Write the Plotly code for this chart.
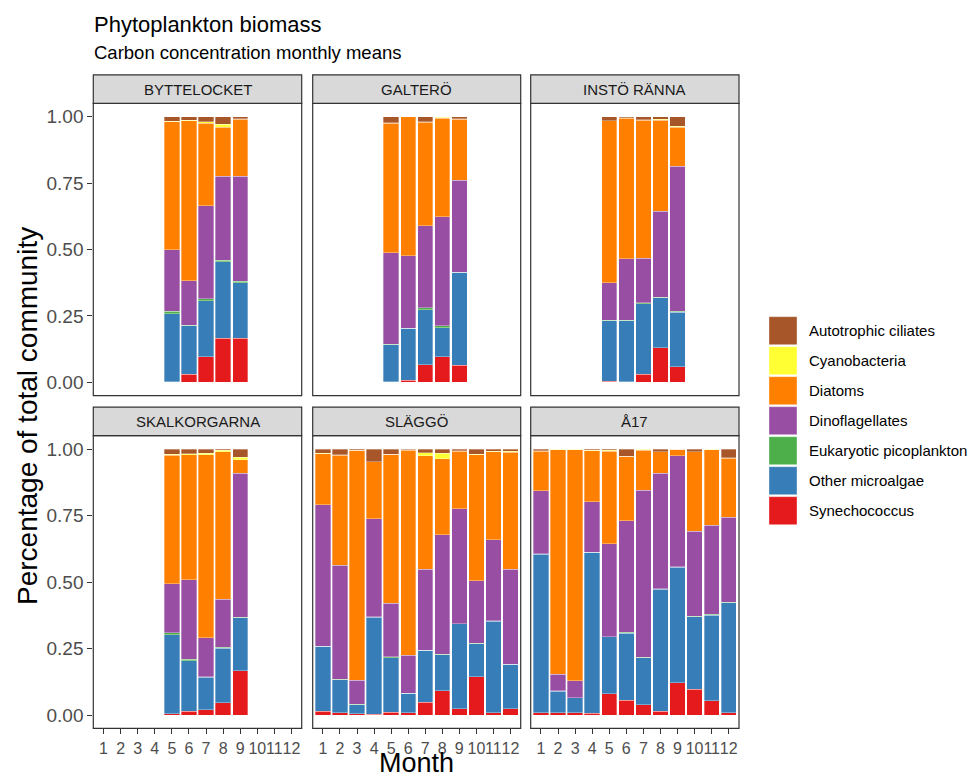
import plotly.graph_objects as go

# ---------------- data ----------------
SITES = ["BYTTELOCKET", "GALTERÖ", "INSTÖ RÄNNA", "SKALKORGARNA", "SLÄGGÖ", "Å17"]
MONTHS_SHORT = [5, 6, 7, 8, 9]
MONTHS_FULL = [1, 2, 3, 4, 5, 6, 7, 8, 9, 10, 11, 12]
SITE_MONTHS = [MONTHS_SHORT, MONTHS_SHORT, MONTHS_SHORT, MONTHS_SHORT, MONTHS_FULL, MONTHS_FULL]
MONTH_TICKS = [str(m) for m in MONTHS_FULL]

GROUPS = ["Autotrophic ciliates", "Cyanobacteria", "Diatoms", "Dinoflagellates",
          "Eukaryotic picoplankton", "Other microalgae", "Synechococcus"]

synechococcus = [
    [0.003, 0.030, 0.097, 0.166, 0.166],
    [0.002, 0.009, 0.067, 0.097, 0.064],
    [0.005, 0.003, 0.030, 0.130, 0.059],
    [0.005, 0.015, 0.020, 0.046, 0.166],
    [0.015, 0.009, 0.004, 0.002, 0.010, 0.009, 0.048, 0.091, 0.024, 0.143, 0.009, 0.023],
    [0.008, 0.008, 0.009, 0.006, 0.080, 0.055, 0.039, 0.015, 0.121, 0.096, 0.053, 0.009],
]
other_microalgae = [
    [0.256, 0.184, 0.211, 0.287, 0.209],
    [0.140, 0.194, 0.207, 0.108, 0.350],
    [0.227, 0.229, 0.266, 0.189, 0.205],
    [0.296, 0.189, 0.121, 0.205, 0.200],
    [0.243, 0.124, 0.035, 0.366, 0.206, 0.072, 0.195, 0.135, 0.319, 0.125, 0.344, 0.167],
    [0.597, 0.082, 0.055, 0.605, 0.213, 0.253, 0.177, 0.458, 0.435, 0.274, 0.322, 0.414],
]
eukaryotic_picoplankton = [
    [0.009, 0.002, 0.006, 0.007, 0.006],
    [0.002, 0.001, 0.007, 0.009, 0.001],
    [0.002, 0.001, 0.004, 0.001, 0.004],
    [0.009, 0.005, 0.003, 0.004, 0.001],
    [0.001, 0.001, 0.001, 0.001, 0.003, 0.001, 0.001, 0.002, 0.001, 0.002, 0.001, 0.001],
    [0.001, 0.001, 0.001, 0.001, 0.001, 0.003, 0.001, 0.001, 0.001, 0.001, 0.003, 0.001],
]
dinoflagellates = [
    [0.231, 0.166, 0.351, 0.316, 0.395],
    [0.344, 0.273, 0.309, 0.409, 0.345],
    [0.141, 0.233, 0.168, 0.324, 0.545],
    [0.184, 0.300, 0.146, 0.180, 0.542],
    [0.532, 0.429, 0.091, 0.368, 0.202, 0.143, 0.304, 0.450, 0.433, 0.235, 0.305, 0.357],
    [0.237, 0.063, 0.063, 0.189, 0.349, 0.419, 0.628, 0.434, 0.417, 0.320, 0.335, 0.320],
]
diatoms = [
    [0.482, 0.603, 0.310, 0.183, 0.214],
    [0.487, 0.522, 0.389, 0.371, 0.230],
    [0.609, 0.528, 0.518, 0.343, 0.146],
    [0.482, 0.470, 0.689, 0.555, 0.050],
    [0.193, 0.414, 0.864, 0.215, 0.559, 0.771, 0.427, 0.286, 0.215, 0.474, 0.332, 0.440],
    [0.149, 0.843, 0.870, 0.193, 0.347, 0.242, 0.150, 0.081, 0.025, 0.298, 0.285, 0.222],
]
cyanobacteria = [
    [0.001, 0.002, 0.005, 0.012, 0.002],
    [0.001, 0.000, 0.001, 0.003, 0.002],
    [0.001, 0.001, 0.003, 0.004, 0.004],
    [0.004, 0.004, 0.005, 0.005, 0.010],
    [0.001, 0.001, 0.001, 0.001, 0.001, 0.001, 0.010, 0.020, 0.003, 0.001, 0.001, 0.003],
    [0.001, 0.002, 0.001, 0.001, 0.004, 0.001, 0.004, 0.001, 0.001, 0.001, 0.001, 0.003],
]
autotrophic_ciliates = [
    [0.018, 0.014, 0.020, 0.029, 0.008],
    [0.024, 0.001, 0.020, 0.003, 0.008],
    [0.015, 0.005, 0.011, 0.010, 0.037],
    [0.020, 0.017, 0.016, 0.005, 0.031],
    [0.016, 0.022, 0.004, 0.047, 0.019, 0.003, 0.015, 0.016, 0.006, 0.020, 0.009, 0.009],
    [0.007, 0.001, 0.001, 0.005, 0.005, 0.027, 0.001, 0.010, 0.000, 0.010, 0.001, 0.032],
]

Y_TICKS = [0, 0.25, 0.5, 0.75, 1.0]
Y_TICK_LABELS = ["0.00", "0.25", "0.50", "0.75", "1.00"]

# ---------------- styling ----------------
COLORS = {
    "Autotrophic ciliates": "#A65628",
    "Cyanobacteria": "#FFFF33",
    "Diatoms": "#FF7F00",
    "Dinoflagellates": "#984EA3",
    "Eukaryotic picoplankton": "#4DAF4A",
    "Other microalgae": "#377EB8",
    "Synechococcus": "#E41A1C",
}
SERIES = {
    "Autotrophic ciliates": autotrophic_ciliates,
    "Cyanobacteria": cyanobacteria,
    "Diatoms": diatoms,
    "Dinoflagellates": dinoflagellates,
    "Eukaryotic picoplankton": eukaryotic_picoplankton,
    "Other microalgae": other_microalgae,
    "Synechococcus": synechococcus,
}
FONT = "Liberation Sans, Arial, sans-serif"
W, H = 971, 780

COL_X = [(93.3, 301.7), (312.7, 520.7), (530.7, 739.0)]
ROW_Y = [(103.3, 395.7), (435.7, 728.3)]
STRIP_H = 28.5


def px_x(x):
    return x / W


def px_y(y):
    return 1 - y / H


fig = go.Figure()
layout = dict(
    width=W, height=H,
    margin=dict(l=0, r=0, t=0, b=0),
    paper_bgcolor="white", plot_bgcolor="white",
    barmode="stack", barnorm="fraction", bargap=0.1,
    showlegend=False,
    font=dict(family=FONT),
)
shapes = []
annotations = []

for i, site in enumerate(SITES):
    r, c = divmod(i, 3)
    ax = "" if i == 0 else str(i + 1)
    x0, x1 = COL_X[c]
    y0, y1 = ROW_Y[r]
    for g in reversed(GROUPS):
        fig.add_trace(go.Bar(
            x=SITE_MONTHS[i], y=SERIES[g][i], name=g,
            marker=dict(color=COLORS[g], line=dict(color="rgba(255,255,255,0.55)", width=0.6)),
            xaxis="x" + ax, yaxis="y" + ax, showlegend=False,
        ))
    bottom = r == 1
    left = c == 0
    layout["xaxis" + ax] = dict(
        domain=[px_x(x0), px_x(x1)], anchor="y" + ax, range=[0.4, 12.6],
        tickmode="array", tickvals=MONTHS_FULL, ticktext=MONTH_TICKS,
        showticklabels=bottom, ticks="outside" if bottom else "", ticklen=5,
        tickcolor="#333333", tickwidth=1, tickangle=0,
        tickfont=dict(size=16, color="#4D4D4D", family=FONT),
        showgrid=False, zeroline=False, showline=False,
    )
    layout["yaxis" + ax] = dict(
        domain=[px_y(y1), px_y(y0)], anchor="x" + ax, range=[-0.05, 1.05],
        tickmode="array", tickvals=Y_TICKS, ticktext=Y_TICK_LABELS,
        showticklabels=left, ticks="outside" if left else "", ticklen=5,
        tickcolor="#333333", tickwidth=1,
        tickfont=dict(size=19, color="#4D4D4D", family=FONT),
        showgrid=False, zeroline=False, showline=False,
    )
    # panel border
    shapes.append(dict(type="rect", xref="paper", yref="paper",
                       x0=px_x(x0), x1=px_x(x1), y0=px_y(y1), y1=px_y(y0),
                       line=dict(color="#333333", width=1.2), fillcolor="rgba(0,0,0,0)", layer="above"))
    # strip
    shapes.append(dict(type="rect", xref="paper", yref="paper",
                       x0=px_x(x0), x1=px_x(x1), y0=px_y(y0), y1=px_y(y0 - STRIP_H),
                       line=dict(color="#333333", width=1.2), fillcolor="#D9D9D9"))
    annotations.append(dict(text=site, xref="paper", yref="paper",
                            x=px_x((x0 + x1) / 2), y=px_y(y0 - STRIP_H / 2),
                            xanchor="center", yanchor="middle", showarrow=False,
                            font=dict(size=15, color="#1A1A1A", family=FONT)))

# titles
annotations.append(dict(text="Phytoplankton biomass", xref="paper", yref="paper",
                        x=px_x(92), y=px_y(25), xanchor="left", yanchor="middle",
                        showarrow=False, font=dict(size=22, color="black", family=FONT)))
annotations.append(dict(text="Carbon concentration monthly means", xref="paper", yref="paper",
                        x=px_x(92), y=px_y(53), xanchor="left", yanchor="middle",
                        showarrow=False, font=dict(size=18.5, color="black", family=FONT)))
annotations.append(dict(text="Percentage of total community", xref="paper", yref="paper",
                        x=px_x(27), y=px_y(416), xanchor="center", yanchor="middle", textangle=-90,
                        showarrow=False, font=dict(size=28, color="black", family=FONT)))
annotations.append(dict(text="Month", xref="paper", yref="paper",
                        x=px_x(416), y=0, xanchor="center", yanchor="bottom",
                        showarrow=False, font=dict(size=27, color="black", family=FONT)))

# legend (drawn manually to match key sizes)
for k, g in enumerate(GROUPS):
    ky = 316.7 + 30 * k
    shapes.append(dict(type="rect", xref="paper", yref="paper",
                       x0=px_x(769), x1=px_x(797), y0=px_y(ky + 28), y1=px_y(ky),
                       line=dict(color="rgba(255,255,255,0.6)", width=0.6), fillcolor=COLORS[g]))
    annotations.append(dict(text=g, xref="paper", yref="paper",
                            x=px_x(807), y=px_y(ky + 14), xanchor="left", yanchor="middle",
                            showarrow=False, font=dict(size=15, color="black", family=FONT)))

layout["shapes"] = shapes
layout["annotations"] = annotations
fig.update_layout(**layout)
fig.write_html("out.html")
